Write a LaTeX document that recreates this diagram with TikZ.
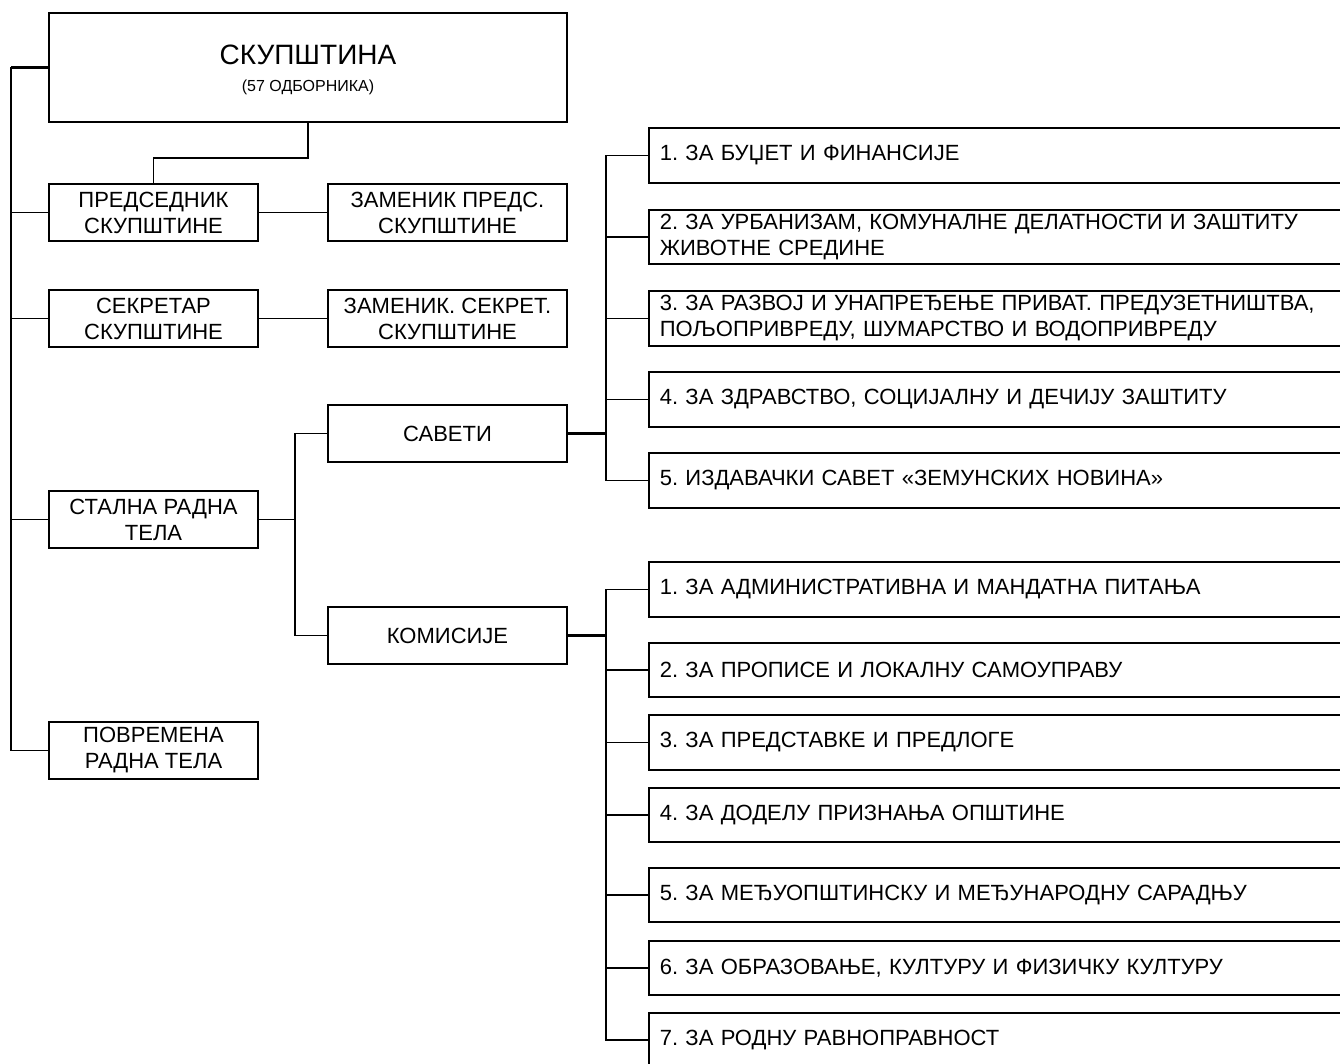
\documentclass[tikz,border=0pt]{standalone}
\usepackage{fontspec}
\setmainfont{Liberation Sans}
\frenchspacing

\begin{document}
\begin{tikzpicture}[x=1pt,y=-1pt,line width=1.6pt,
  box/.style={draw,inner sep=0pt,align=center,font=\fontsize{22}{26}\selectfont},
  leftbox/.style={box,minimum width=209,minimum height=57},
  midbox/.style={box,minimum width=239,minimum height=57},
  itembox/.style={draw,anchor=west,inner xsep=11pt,inner ysep=0pt,text width=678,
    minimum height=54.5,align=left,font=\fontsize{22}{26}\selectfont},
  heavy/.style={line width=3pt}]

\useasboundingbox (0,0) rectangle (1340,1064);

\node[box,minimum width=518,minimum height=109] (skup) at (308,67.5)
  {{\fontsize{28}{30}\selectfont\rule{0pt}{25pt}СКУПШТИНА}\\[1pt]{\fontsize{16}{18}\selectfont (57 ОДБОРНИКА)}};

\node[leftbox] (pred) at (153.5,212.5) {ПРЕДСЕДНИК\\СКУПШТИНЕ};
\node[midbox] (zpred) at (447.5,212.5) {ЗАМЕНИК ПРЕДС.\\СКУПШТИНЕ};
\node[leftbox] (sek) at (153.5,318.5) {СЕКРЕТАР\\СКУПШТИНЕ};
\node[midbox] (zsek) at (447.5,318.5) {ЗАМЕНИК. СЕКРЕТ.\\СКУПШТИНЕ};
\node[leftbox] (stalna) at (153.5,519.5) {СТАЛНА РАДНА\\ТЕЛА};
\node[leftbox] (povr) at (153.5,750.5) {ПОВРЕМЕНА\\РАДНА ТЕЛА};
\node[midbox] (saveti) at (447.5,433.5) {САВЕТИ};
\node[midbox] (komis) at (447.5,635.5) {КОМИСИЈЕ};

\node[itembox] (s1) at (648,155.5) {1. ЗА БУЏЕТ И ФИНАНСИЈЕ};
\node[itembox] (s2) at (648,237) {2. ЗА УРБАНИЗАМ, КОМУНАЛНЕ ДЕЛАТНОСТИ И ЗАШТИТУ\\ЖИВОТНЕ СРЕДИНЕ};
\node[itembox] (s3) at (648,318.5) {3. ЗА РАЗВОЈ И УНАПРЕЂЕЊЕ ПРИВАТ. ПРЕДУЗЕТНИШТВА,\\ПОЉОПРИВРЕДУ, ШУМАРСТВО И ВОДОПРИВРЕДУ};
\node[itembox] (s4) at (648,399.5) {4. ЗА ЗДРАВСТВО, СОЦИЈАЛНУ И ДЕЧИЈУ ЗАШТИТУ};
\node[itembox] (s5) at (648,480.5) {5. ИЗДАВАЧКИ САВЕТ «ЗЕМУНСКИХ НОВИНА»};

\node[itembox] (k1) at (648,589.5) {1. ЗА АДМИНИСТРАТИВНА И МАНДАТНА ПИТАЊА};
\node[itembox] (k2) at (648,670) {2. ЗА ПРОПИСЕ И ЛОКАЛНУ САМОУПРАВУ};
\node[itembox] (k3) at (648,742.5) {3. ЗА ПРЕДСТАВКЕ И ПРЕДЛОГЕ};
\node[itembox] (k4) at (648,815) {4. ЗА ДОДЕЛУ ПРИЗНАЊА ОПШТИНЕ};
\node[itembox] (k5) at (648,895) {5. ЗА МЕЂУОПШТИНСКУ И МЕЂУНАРОДНУ САРАДЊУ};
\node[itembox] (k6) at (648,968) {6. ЗА ОБРАЗОВАЊЕ, КУЛТУРУ И ФИЗИЧКУ КУЛТУРУ};
\node[itembox] (k7) at (648,1040) {7. ЗА РОДНУ РАВНОПРАВНОСТ};

\draw[heavy] (skup.west) -- ++(-37,0) coordinate (sp);
\draw (sp) |- (povr.west);
\foreach \n in {pred,sek,stalna}
  \draw (\n.west) -- (\n.west -| sp);

\draw (skup.south) -- ++(0,35) -| (pred.north);
\draw (pred.east) -- (zpred.west);
\draw (sek.east) -- (zsek.west);

\draw (saveti.west) -- ++(-32,0) coordinate (st) |- (komis.west);
\draw (stalna.east) -- (stalna.east -| st);

\draw[heavy] (saveti.east) -- ++(38,0) coordinate (sv);
\draw (s1.west) -| (sv) |- (s5.west);
\foreach \n in {s2,s3,s4}
  \draw (\n.west) -- (\n.west -| sv);

\draw[heavy] (komis.east) -- ++(38,0) coordinate (km);
\draw (k1.west) -| (km) |- (k7.west);
\foreach \n in {k2,k3,k4,k5,k6}
  \draw (\n.west) -- (\n.west -| km);

\end{tikzpicture}
\end{document}
